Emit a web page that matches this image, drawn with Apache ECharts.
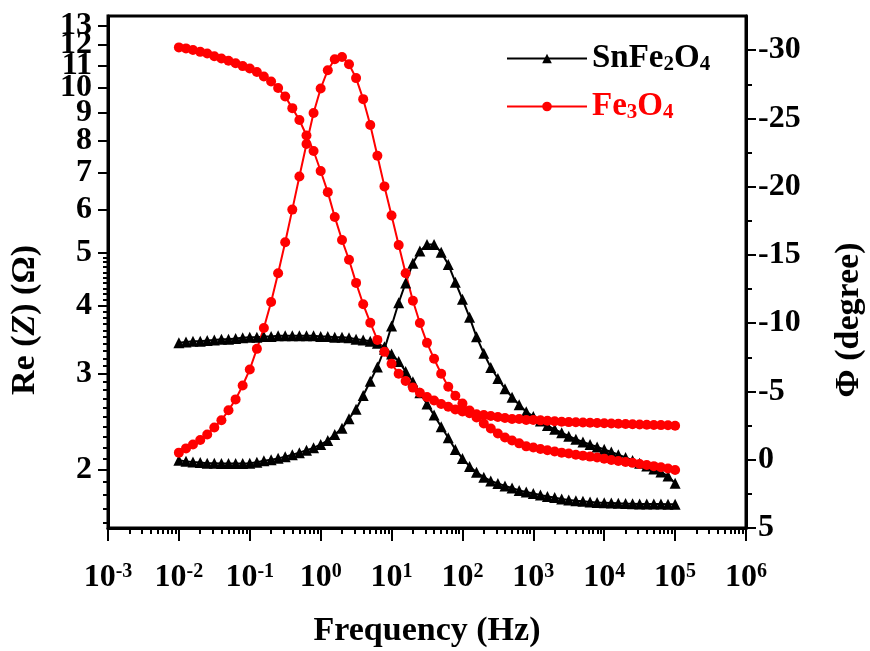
<!DOCTYPE html>
<html><head><meta charset="utf-8">
<script src="https://cdn.jsdelivr.net/npm/echarts@6/dist/echarts.min.js"></script>
<style>html,body{margin:0;padding:0;background:#fff}#c{width:870px;height:651px}</style>
</head><body><div id="c"></div>
<script>
const freq = [0.01,0.0126,0.0158,0.02,0.0251,0.0316,0.0398,0.0501,0.0631,0.0794,
  0.1,0.126,0.158,0.2,0.251,0.316,0.398,0.501,0.631,0.794,
  1,1.26,1.58,2,2.51,3.16,3.98,5.01,6.31,7.94,
  10,12.6,15.8,20,25.1,31.6,39.8,50.1,63.1,79.4,
  100,126,158,200,251,316,398,501,631,794,
  1000,1260,1580,2000,2510,3160,3980,5010,6310,7940,
  10000,12600,15800,20000,25100,31600,39800,50100,63100,79400,
  100000];
const snReZ = [3.42,3.43,3.44,3.44,3.45,3.46,3.47,3.47,3.48,3.49,
  3.50,3.50,3.51,3.51,3.52,3.52,3.52,3.52,3.52,3.52,
  3.51,3.51,3.50,3.50,3.49,3.47,3.46,3.44,3.41,3.36,
  3.26,3.16,3.03,2.90,2.77,2.64,2.52,2.40,2.29,2.18,
  2.10,2.03,1.98,1.94,1.91,1.89,1.87,1.854,1.835,1.823,
  1.811,1.800,1.789,1.780,1.770,1.763,1.757,1.752,1.748,1.744,
  1.742,1.740,1.738,1.736,1.735,1.733,1.733,1.732,1.732,1.731,
  1.730];
const snPhase = [0.04,0.12,0.17,0.21,0.25,0.26,0.28,0.28,0.28,0.28,
  0.26,0.19,0.08,0.0,-0.10,-0.22,-0.36,-0.52,-0.70,-0.87,
  -1.12,-1.40,-1.85,-2.30,-3.00,-3.70,-4.70,-5.75,-6.80,-8.10,
  -9.80,-11.50,-12.95,-14.40,-15.28,-15.77,-15.77,-15.20,-14.30,-13.00,
  -11.75,-10.43,-9.00,-7.80,-6.75,-5.95,-5.20,-4.58,-4.03,-3.51,
  -3.17,-2.83,-2.50,-2.23,-1.98,-1.72,-1.50,-1.30,-1.12,-0.94,
  -0.76,-0.57,-0.37,-0.17,0.05,0.26,0.46,0.68,0.90,1.20,
  1.72];
const feReZ = [11.87,11.82,11.74,11.65,11.57,11.44,11.33,11.22,11.10,10.97,
  10.86,10.70,10.50,10.28,10.00,9.65,9.19,8.74,8.19,7.67,
  7.05,6.45,5.81,5.27,4.85,4.40,4.02,3.72,3.46,3.29,
  3.13,3.00,2.91,2.83,2.77,2.72,2.68,2.64,2.61,2.58,
  2.56,2.54,2.53,2.52,2.51,2.50,2.49,2.48,2.48,2.47,
  2.47,2.465,2.46,2.455,2.45,2.447,2.445,2.442,2.44,2.437,
  2.435,2.432,2.43,2.427,2.425,2.423,2.42,2.418,2.416,2.414,
  2.41];
const fePhase = [-0.52,-0.83,-1.12,-1.44,-1.85,-2.36,-2.89,-3.62,-4.42,-5.44,
  -6.61,-8.12,-9.65,-11.55,-13.66,-15.93,-18.32,-20.75,-23.13,-25.39,
  -27.19,-28.53,-29.33,-29.50,-28.97,-27.95,-26.41,-24.52,-22.26,-20.02,
  -17.89,-15.72,-13.66,-11.64,-10.01,-8.56,-7.39,-6.30,-5.35,-4.69,
  -4.11,-3.60,-3.09,-2.65,-2.29,-1.92,-1.63,-1.41,-1.20,-0.98,
  -0.90,-0.78,-0.69,-0.60,-0.52,-0.45,-0.37,-0.30,-0.23,-0.16,
  -0.07,0.02,0.09,0.16,0.23,0.31,0.39,0.47,0.55,0.64,
  0.75];
const xMajor = [0.001,0.01,0.1,1,10,100,1000,10000,100000,1000000];
const yLeftMajor = [2,3,4,5,6,7,8,9,10,11,12,13];
const yRightMajor = [-30,-25,-20,-15,-10,-5,0,5];
const yRightMinor = [-27.5,-22.5,-17.5,-12.5,-7.5,-2.5,2.5];

const xMinor = [];
for (let d = 0; d < xMajor.length - 1; d++) for (let m = 2; m <= 9; m++) xMinor.push(+(xMajor[d] * m).toPrecision(3));
const yLeftMinor = [];
for (let v = 16; v < 50; v++) if (v % 10 !== 0) yLeftMinor.push(v / 10);
// labels split over two axes so that the crowded 10..13 labels are all drawn
const yLeftLblA = yLeftMajor.filter(v => v !== 12);
const yLeftLblB = yLeftMajor.filter(v => v === 12);

const FF = "'Liberation Serif','Times New Roman',serif";
const line = {show: true, onZero: false, lineStyle: {color: '#000', width: 3}};
const noLine = {show: false, onZero: false};
const noLbl = {show: false};
const baseLbl = {color: '#000', fontFamily: FF, fontWeight: 'bold', fontSize: 32, hideOverlap: false, showMinLabel: true, showMaxLabel: true};

const chart = echarts.init(document.getElementById('c'));
chart.setOption({
  animation: false,
  backgroundColor: '#fff',
  grid: {left: 108, right: 124, top: 16, bottom: 123, containLabel: false, outerBoundsMode: 'none',
    show: true, borderColor: '#000', borderWidth: 3, backgroundColor: 'transparent'},
  legend: {
    orient: 'vertical', left: 501, top: 37, itemWidth: 80, itemHeight: 12, itemGap: 15,
    textStyle: {fontFamily: FF, fontWeight: 'bold', fontSize: 33,
      rich: {s: {fontFamily: FF, fontWeight: 'bold', fontSize: 21, verticalAlign: 'bottom', lineHeight: 20}}},
    formatter: n => n === 'SnFe2O4' ? 'SnFe{s|2}O{s|4}' : 'Fe{s|3}O{s|4}',
    data: [{name: 'SnFe2O4', textStyle: {color: '#000'}}, {name: 'Fe3O4', textStyle: {color: '#ff0000'}}]
  },
  xAxis: [{
    type: 'log', logBase: 10, min: 0.001, max: 1000000, position: 'bottom',
    axisLine: line, splitLine: {show: false}, minorTick: {show: false},
    axisTick: {show: true, inside: false, length: 13, lineStyle: {color: '#000', width: 2}, customValues: xMajor},
    axisLabel: Object.assign({}, baseLbl, {margin: 34, customValues: xMajor,
      formatter: v => '10{sup|' + Math.round(Math.log10(v)) + '}',
      rich: {sup: {fontFamily: FF, fontWeight: 'bold', fontSize: 20, verticalAlign: 'top', lineHeight: 16}}}),
    name: 'Frequency (Hz)', nameLocation: 'middle', nameGap: 86,
    nameTextStyle: {color: '#000', fontFamily: FF, fontWeight: 'bold', fontSize: 34}
  }, {
    type: 'log', logBase: 10, min: 0.001, max: 1000000, position: 'bottom',
    axisLine: noLine, splitLine: {show: false}, axisLabel: noLbl,
    axisTick: {show: true, inside: false, length: 6, lineStyle: {color: '#000', width: 2}, customValues: xMinor}
  }],
  yAxis: [{
    type: 'log', logBase: 10, min: 1.566, max: 13.55, position: 'left',
    axisLine: line, splitLine: {show: false},
    axisTick: {show: true, inside: false, length: 10, lineStyle: {color: '#000', width: 2}, customValues: yLeftMajor},
    axisLabel: Object.assign({}, baseLbl, {margin: 16, customValues: yLeftLblA}),
    name: 'Re ({i|Z}) (Ω)', nameLocation: 'middle', nameGap: 66, nameRotate: 90,
    nameTextStyle: {color: '#000', fontFamily: FF, fontWeight: 'bold', fontSize: 34, padding: [0, 96, 0, 0],
      rich: {i: {fontFamily: FF, fontWeight: 'bold', fontStyle: 'italic', fontSize: 34}}}
  }, {
    type: 'log', logBase: 10, min: 1.566, max: 13.55, position: 'left',
    axisLine: noLine, splitLine: {show: false},
    axisLabel: Object.assign({}, baseLbl, {margin: 16, customValues: yLeftLblB}),
    axisTick: {show: true, inside: false, length: 5, lineStyle: {color: '#000', width: 2}, customValues: yLeftMinor}
  }, {
    type: 'value', inverse: true, min: -32.5, max: 5, position: 'right',
    axisLine: line, splitLine: {show: false},
    axisTick: {show: true, inside: false, length: 10, lineStyle: {color: '#000', width: 2}, customValues: yRightMajor},
    axisLabel: Object.assign({}, baseLbl, {margin: 12, customValues: yRightMajor}),
    name: 'Φ (degree)', nameLocation: 'middle', nameGap: 86, nameRotate: 90,
    nameTextStyle: {color: '#000', fontFamily: FF, fontWeight: 'bold', fontSize: 34, padding: [0, 96, 0, 0]}
  }, {
    type: 'value', inverse: true, min: -32.5, max: 5, position: 'right',
    axisLine: noLine, splitLine: {show: false}, axisLabel: noLbl,
    axisTick: {show: true, inside: false, length: 6, lineStyle: {color: '#000', width: 2}, customValues: yRightMinor}
  }],
  series: [
    {name: 'SnFe2O4', type: 'line', xAxisIndex: 0, yAxisIndex: 0, data: freq.map((f, i) => [f, snReZ[i]]),
     symbol: 'triangle', symbolSize: 11, itemStyle: {color: '#000'}, lineStyle: {color: '#000', width: 2}},
    {name: 'SnFe2O4', type: 'line', xAxisIndex: 0, yAxisIndex: 2, data: freq.map((f, i) => [f, snPhase[i]]),
     symbol: 'triangle', symbolSize: 11, itemStyle: {color: '#000'}, lineStyle: {color: '#000', width: 2}},
    {name: 'Fe3O4', type: 'line', xAxisIndex: 0, yAxisIndex: 0, data: freq.map((f, i) => [f, feReZ[i]]),
     symbol: 'circle', symbolSize: 10, itemStyle: {color: '#ff0000'}, lineStyle: {color: '#ff0000', width: 2}},
    {name: 'Fe3O4', type: 'line', xAxisIndex: 0, yAxisIndex: 2, data: freq.map((f, i) => [f, fePhase[i]]),
     symbol: 'circle', symbolSize: 10, itemStyle: {color: '#ff0000'}, lineStyle: {color: '#ff0000', width: 2}}
  ]
});
</script></body></html>
